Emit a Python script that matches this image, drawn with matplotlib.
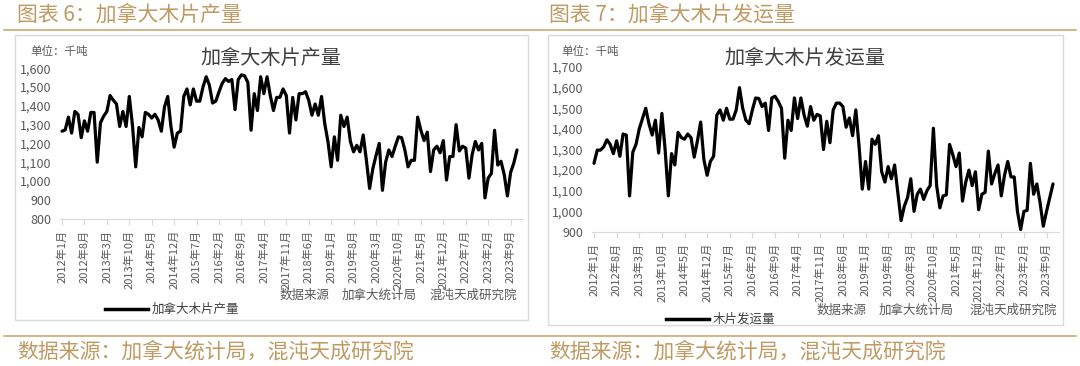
import matplotlib
matplotlib.use("Agg")
import matplotlib.pyplot as plt
import matplotlib.ticker as mticker
from matplotlib.lines import Line2D
from matplotlib.patches import Rectangle

plt.rcParams["font.family"] = ["Noto Sans CJK SC", "DejaVu Sans"]

# monthly data, 2012-01 .. 2023-11 (千吨)
months = [f"{y}年{m}月" for y in range(2012, 2024) for m in range(1, 13)][:143]

production = [
    1265, 1272, 1340, 1255, 1370, 1355, 1230, 1320, 1265, 1365, 1365, 1100,  # 2012
    1310, 1345, 1370, 1455, 1430, 1410, 1290, 1370, 1290, 1450, 1295, 1075,  # 2013
    1285, 1235, 1365, 1355, 1335, 1355, 1325, 1265, 1395, 1450, 1290, 1180,  # 2014
    1255, 1265, 1450, 1490, 1405, 1490, 1425, 1425, 1500, 1555, 1510, 1415,  # 2015
    1425, 1475, 1520, 1545, 1530, 1540, 1380, 1540, 1565, 1560, 1525, 1270,  # 2016
    1465, 1375, 1555, 1465, 1555, 1455, 1375, 1445, 1445, 1490, 1455, 1255,  # 2017
    1445, 1325, 1465, 1465, 1475, 1430, 1350, 1410, 1350, 1450, 1305, 1210,  # 2018
    1075, 1235, 1110, 1350, 1290, 1340, 1210, 1155, 1190, 1155, 1245, 1110,  # 2019
    960, 1065, 1135, 1200, 950, 1100, 1165, 1130, 1185, 1235, 1230, 1165,    # 2020
    1075, 1110, 1110, 1340, 1270, 1215, 1260, 1050, 1165, 1185, 1150, 1215,  # 2021
    1005, 1130, 1130, 1300, 1160, 1185, 1175, 1015, 1140, 1210, 1165, 1200,  # 2022
    910, 1015, 1040, 1270, 1085, 1105, 1035, 920, 1045, 1095, 1165,          # 2023
]

shipments = [
    1233, 1297, 1297, 1313, 1347, 1325, 1280, 1342, 1267, 1375, 1370, 1075,  # 2012
    1287, 1325, 1400, 1450, 1500, 1425, 1370, 1442, 1283, 1475, 1300, 1075,  # 2013
    1280, 1225, 1383, 1358, 1350, 1375, 1358, 1263, 1342, 1433, 1250, 1175,  # 2014
    1242, 1267, 1467, 1492, 1442, 1500, 1447, 1447, 1492, 1600, 1500, 1442,  # 2015
    1425, 1492, 1550, 1547, 1508, 1525, 1392, 1550, 1558, 1533, 1500, 1258,  # 2016
    1442, 1392, 1550, 1450, 1550, 1467, 1413, 1508, 1442, 1470, 1463, 1300,  # 2017
    1437, 1333, 1492, 1525, 1525, 1508, 1408, 1453, 1367, 1492, 1317, 1108,  # 2018
    1242, 1108, 1350, 1325, 1367, 1192, 1142, 1217, 1158, 1225, 1092, 955,   # 2019
    1025, 1067, 1158, 1000, 1083, 1108, 1058, 1100, 1125, 1403, 1125, 1017,  # 2020
    1075, 1080, 1325, 1275, 1217, 1283, 1050, 1142, 1200, 1125, 1192, 1008,  # 2021
    1083, 1092, 1292, 1133, 1183, 1225, 1075, 1175, 1242, 1167, 1167, 1000,  # 2022
    912, 1000, 1005, 1233, 1083, 1133, 1042, 928, 1000, 1067, 1133,          # 2023
]

W, H = 1080, 366
GOLD = "#bf9a62"
GOLD_LINE = "#cdaa72"
GRAY = "#595959"
DARK = "#404040"
BORDER = "#d9d9d9"


def fx(x):
    return x / W


def fy(y):
    return 1 - y / H


def draw_panel(fig, values, cfg):
    # light frame around the chart
    x0, y0, x1, y1 = cfg["box"]
    fig.patches.append(Rectangle((fx(x0), fy(y1)), fx(x1 - x0), (y1 - y0) / H,
                                 transform=fig.transFigure, fill=False,
                                 edgecolor=BORDER, linewidth=1))

    # axes placed so that first/last month land on the measured pixels
    ax_l, ax_r, top, bottom = cfg["axes"]
    first, last = cfg["data_x"]
    n = len(values)
    per = (last - first) / (n - 1)
    ax = fig.add_axes([fx(ax_l), fy(bottom), fx(ax_r - ax_l), (bottom - top) / H])
    ax.plot(range(n), values, color="black", linewidth=2.3,
            solid_joinstyle="round", solid_capstyle="round")
    ax.set_xlim(-(first - ax_l) / per, (n - 1) + (ax_r - last) / per)
    ax.set_ylim(cfg["ylim"])
    ax.yaxis.set_major_locator(mticker.MultipleLocator(100))
    ax.yaxis.set_major_formatter(mticker.FuncFormatter(lambda v, p: f"{v:,.0f}"))

    ticks = list(range(0, n, 7))
    ax.set_xticks(ticks)
    ax.set_xticklabels([months[i] for i in ticks], rotation=90)

    for side in ("top", "right", "left"):
        ax.spines[side].set_visible(False)
    ax.spines["bottom"].set_color(BORDER)
    ax.tick_params(axis="y", length=0, labelsize=9, labelcolor=GRAY, pad=6)
    ax.tick_params(axis="x", length=4, color=BORDER, labelsize=8,
                   labelcolor=GRAY, pad=4)
    ax.patch.set_alpha(0)

    # texts inside the frame
    ux, uy = cfg["unit"]
    fig.text(fx(ux), fy(uy), "单位：千吨", fontsize=8.3, color=GRAY, va="center")
    tx, ty = cfg["title_pos"]
    fig.text(fx(tx), fy(ty), cfg["title"], fontsize=14.5, color=DARK,
             ha="center", va="center")
    sy = cfg["src_y"]
    for (sx, s) in zip(cfg["src_x"], ["数据来源", "加拿大统计局", "混沌天成研究院"]):
        fig.text(fx(sx), fy(sy), s, fontsize=9, color=GRAY, va="center")

    lx0, lx1, ly = cfg["legend"]
    fig.lines.append(Line2D([fx(lx0), fx(lx1)], [fy(ly), fy(ly)],
                            transform=fig.transFigure, color="black",
                            linewidth=2.5))
    fig.text(fx(lx1 + 4), fy(ly), cfg["name"], fontsize=9, color=DARK,
             va="center")

    # heading above and source below
    hx = cfg["head_x"]
    fig.text(fx(hx), fy(15), cfg["heading"], fontsize=15, color=GOLD,
             va="center")
    fig.text(fx(hx), fy(352), "数据来源：加拿大统计局，混沌天成研究院",
             fontsize=15, color=GOLD, va="center")
    return ax


fig = plt.figure(figsize=(W / 100, H / 100), dpi=100)

for y in (30, 336):
    fig.lines.append(Line2D([fx(4), fx(1076)], [fy(y), fy(y)],
                            transform=fig.transFigure, color=GOLD_LINE,
                            linewidth=1.2))

draw_panel(fig, production, {
    "box": (15, 35, 528, 320),
    "axes": (60, 523, 68.3, 218.5),
    "data_x": (62, 517),
    "ylim": (800, 1600),
    "unit": (30, 52),
    "title": "加拿大木片产量",
    "title_pos": (271, 58),
    "src_x": (280, 342, 430),
    "src_y": 295,
    "legend": (105, 148, 309),
    "name": "加拿大木片产量",
    "heading": "图表 6：加拿大木片产量",
    "head_x": 17,
})

draw_panel(fig, shipments, {
    "box": (548, 35, 1063, 325),
    "axes": (592, 1059, 67, 232),
    "data_x": (594, 1053),
    "ylim": (900, 1700),
    "unit": (561, 52),
    "title": "加拿大木片发运量",
    "title_pos": (805, 58),
    "src_x": (817, 879, 970),
    "src_y": 310,
    "legend": (666, 709, 319),
    "name": "木片发运量",
    "heading": "图表 7：加拿大木片发运量",
    "head_x": 549,
})

fig.savefig("out.png", dpi=100)
